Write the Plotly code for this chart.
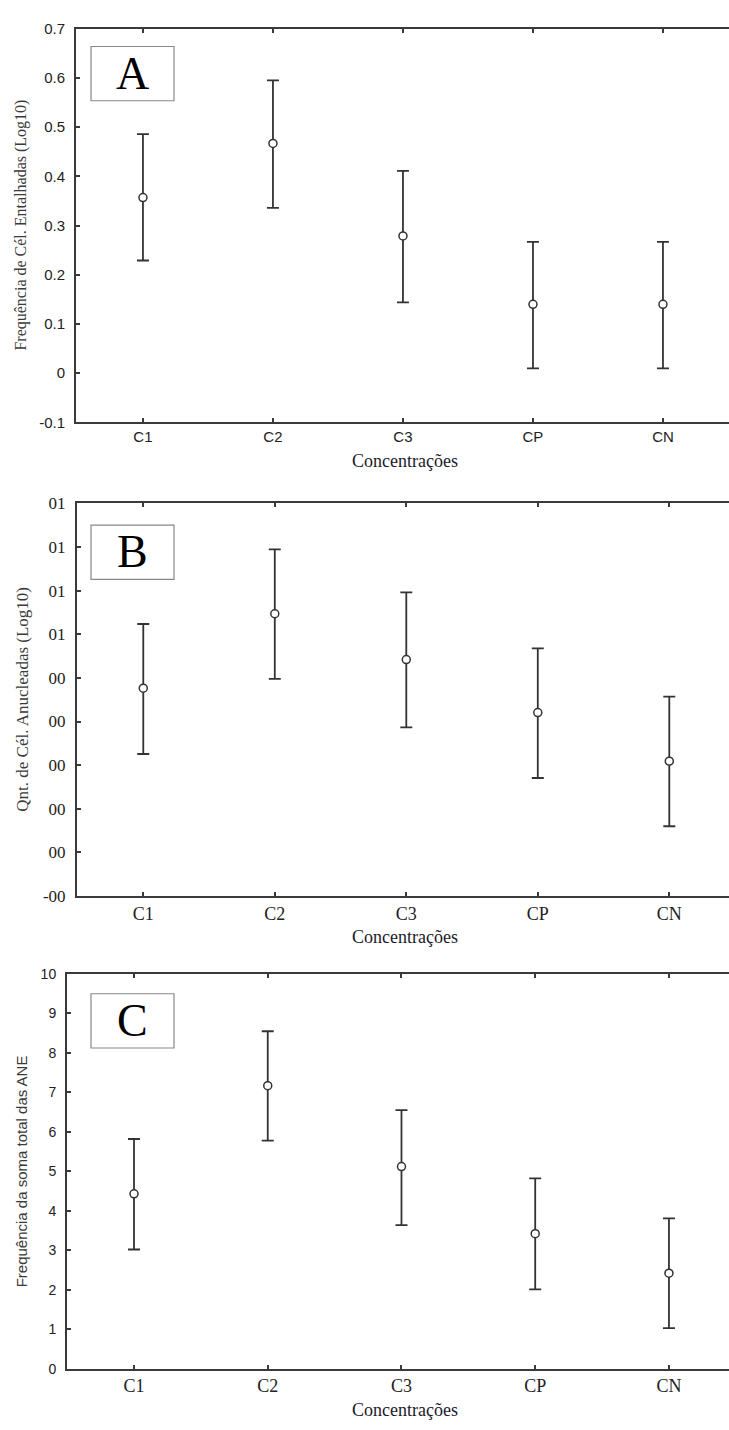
import plotly.graph_objects as go

W, H = 729, 1430

categories = ["C1", "C2", "C3", "CP", "CN"]

# Panel A: Frequência de Cél. Entalhadas (Log10)
a_mean = [0.357, 0.467, 0.279, 0.140, 0.140]
a_upper = [0.486, 0.595, 0.411, 0.267, 0.267]
a_lower = [0.229, 0.336, 0.144, 0.010, 0.010]
a_ticks = [-0.1, 0, 0.1, 0.2, 0.3, 0.4, 0.5, 0.6, 0.7]
a_ticktext = ["-0.1", "0", "0.1", "0.2", "0.3", "0.4", "0.5", "0.6", "0.7"]

# Panel B: Qnt. de Cél. Anucleadas (Log10)
b_mean = [0.0753, 0.1094, 0.0884, 0.0641, 0.0418]
b_upper = [0.1047, 0.1389, 0.1192, 0.0935, 0.0714]
b_lower = [0.0451, 0.0795, 0.0573, 0.0341, 0.0120]
b_ticks = [-0.02, 0.0, 0.02, 0.04, 0.06, 0.08, 0.10, 0.12, 0.14, 0.16]
b_ticktext = ["-00", "00", "00", "00", "00", "00", "01", "01", "01", "01"]

# Panel C: Frequência da soma total das ANE
c_mean = [4.43, 7.17, 5.12, 3.42, 2.42]
c_upper = [5.82, 8.55, 6.55, 4.82, 3.81]
c_lower = [3.02, 5.78, 3.64, 2.01, 1.03]
c_ticks = list(range(0, 11))
c_ticktext = [str(v) for v in c_ticks]

def px(x):
    return x / W

def py(y):
    return 1 - y / H

SERIF = "Liberation Serif, Times New Roman, serif"
SANS = "Liberation Sans, Arial, sans-serif"
LINE = "#3a3a3a"
TXT = "#222222"

panels = [
    dict(mean=a_mean, up=a_upper, lo=a_lower, ticks=a_ticks, ticktext=a_ticktext,
         yrange=[-0.1, 0.7], left=76, top=20, bottom=419, xrange=[-0.515, 4.508],
         yfont=dict(family=SANS, size=15, color=TXT), xfont=dict(family=SANS, size=15, color=TXT),
         ytitle="Frequência de Cél. Entalhadas (Log10)", ytfont=dict(family=SERIF, size=16, color="#3a3a3a"),
         ytx=21, letter="A", xtitle_y=458),
    dict(mean=b_mean, up=b_upper, lo=b_lower, ticks=b_ticks, ticktext=b_ticktext,
         yrange=[-0.02, 0.16], left=77, top=501, bottom=899, xrange=[-0.504, 4.454],
         yfont=dict(family=SERIF, size=17, color=TXT), xfont=dict(family=SERIF, size=18, color=TXT),
         ytitle="Qnt. de Cél. Anucleadas (Log10)", ytfont=dict(family=SERIF, size=17, color="#3a3a3a"),
         ytx=23, letter="B", xtitle_y=941),
    dict(mean=c_mean, up=c_upper, lo=c_lower, ticks=c_ticks, ticktext=c_ticktext,
         yrange=[0, 10], left=67, top=978, bottom=1378, xrange=[-0.501, 4.449],
         yfont=dict(family=SANS, size=14, color=TXT), xfont=dict(family=SERIF, size=18, color=TXT),
         ytitle="Frequência da soma total das ANE", ytfont=dict(family=SANS, size=15, color="#3a3a3a"),
         ytx=21, letter="C", xtitle_y=1420),
]

box_tops = [38, 523, 998]

fig = go.Figure()
annotations = []
shapes = []

for i, p in enumerate(panels, start=1):
    xa = "x" if i == 1 else f"x{i}"
    ya = "y" if i == 1 else f"y{i}"
    err_plus = [u - m for u, m in zip(p["up"], p["mean"])]
    err_minus = [m - l for m, l in zip(p["mean"], p["lo"])]
    fig.add_trace(go.Scatter(
        x=categories, y=p["mean"], xaxis=xa, yaxis=ya, mode="markers",
        marker=dict(symbol="circle", size=8, color="white", line=dict(color="#333", width=1.5)),
        error_y=dict(type="data", symmetric=False, array=err_plus, arrayminus=err_minus,
                     color="#333", thickness=1.8, width=6),
        showlegend=False, cliponaxis=False,
    ))
    xkey = "xaxis" if i == 1 else f"xaxis{i}"
    ykey = "yaxis" if i == 1 else f"yaxis{i}"
    fig.layout[xkey] = dict(
        domain=[px(p["left"]), 1], anchor=ya, range=p["xrange"], type="category",
        showline=True, linecolor=LINE, linewidth=2, mirror="ticks",
        ticks="inside", ticklen=4, tickwidth=1.5, tickcolor=LINE,
        showgrid=False, zeroline=False, tickfont=p["xfont"], ticklabelstandoff=0,
        fixedrange=True,
    )
    fig.layout[ykey] = dict(
        domain=[py(p["bottom"]), py(p["top"])], anchor=xa, range=p["yrange"],
        tickmode="array", tickvals=p["ticks"], ticktext=p["ticktext"],
        showline=True, linecolor=LINE, linewidth=2, mirror=False,
        ticks="inside", ticklen=4, tickwidth=1.5, tickcolor=LINE,
        showgrid=False, zeroline=False, tickfont=p["yfont"], ticklabelstandoff=6,
        fixedrange=True,
    )
    # y-axis title
    annotations.append(dict(
        text=p["ytitle"], xref="paper", yref="paper",
        x=px(p["ytx"]), y=py((p["top"] + p["bottom"]) / 2), textangle=-90,
        showarrow=False, font=p["ytfont"], xanchor="center", yanchor="middle",
    ))
    # x-axis title
    annotations.append(dict(
        text="Concentrações", xref="paper", yref="paper",
        x=px(405), y=py(p["xtitle_y"]), showarrow=False,
        font=dict(family=SERIF, size=18, color="#1a1a2a"), xanchor="center", yanchor="middle",
    ))
    # panel letter box
    bt = box_tops[i - 1]
    shapes.append(dict(type="rect", xref="paper", yref="paper",
                       x0=px(91), x1=px(174), y0=py(bt + 55), y1=py(bt),
                       line=dict(color="#888", width=1.2), fillcolor="rgba(0,0,0,0)"))
    annotations.append(dict(
        text=p["letter"], xref="paper", yref="paper",
        x=px(132.5), y=py(bt + 27), showarrow=False,
        font=dict(family=SERIF, size=46, color="#000"), xanchor="center", yanchor="middle",
    ))

fig.update_layout(
    width=W, height=H, margin=dict(l=0, r=0, t=0, b=0),
    paper_bgcolor="white", plot_bgcolor="white",
    annotations=annotations, shapes=shapes, showlegend=False,
)

fig.write_html("out.html", config={"displayModeBar": False})
